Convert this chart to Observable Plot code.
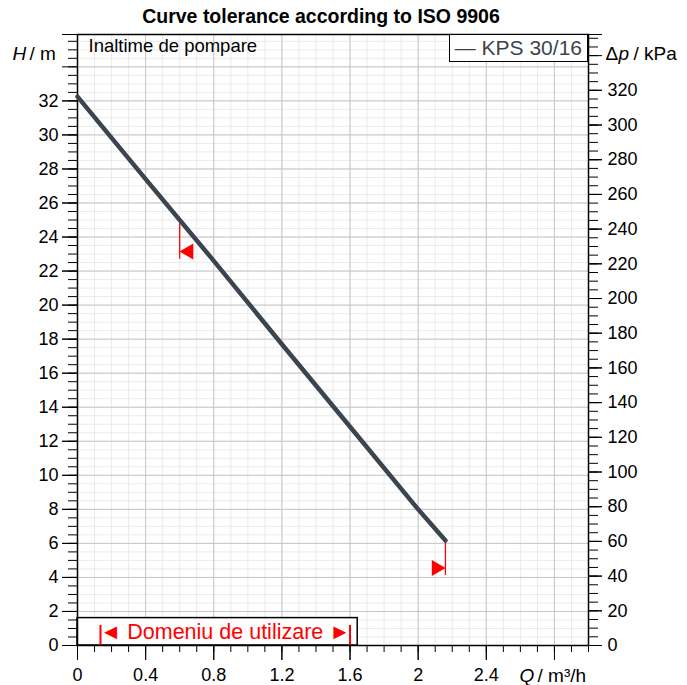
<!DOCTYPE html>
<html><head><meta charset="utf-8">
<script src="https://cdn.jsdelivr.net/npm/d3@7"></script>
<script src="https://cdn.jsdelivr.net/npm/@observablehq/plot@0.6"></script>
<style>
body{margin:0;background:#fff;font-family:"Liberation Sans",Arial,sans-serif}
#wrap{position:relative;width:687px;height:685px}
#legend{position:absolute;left:449px;top:34px;width:137px;height:26px;border:1.5px solid #000;background:#fff;
  color:#3b4550;font-size:21px;line-height:26px;text-align:right;box-sizing:content-box;white-space:nowrap}
#legend span{margin-right:5px}
</style>
</head><body><div id="wrap"><div id="chart"></div><div id="legend"><span></span></div></div>
<script>
// ---- data ----
const titleText = "Curve tolerance according to ISO 9906";
const seriesName = "KPS 30/16";
const flowQ = [0, 0.4, 0.8, 1.2, 1.6, 2.0, 2.16];
const headH = [32.25, 27.4, 22.6, 17.7, 12.85, 8.0, 6.17];
const toleranceQ = [0.60, 2.16];
const toleranceLow = [22.7, 4.12];
const toleranceHigh = [24.85, 6.17];
const toleranceMid = [23.15, 4.55];
const toleranceDir = ["left", "right"];
const rangeQ = [0.135, 1.6];
const rangeBoxQ = 1.645;
const rangeBoxH = 1.61;
const rangeMarkH = 1.18;
const rangeLabel = "Domeniu de utilizare";
const curveLabel = "Inaltime de pompare";
const xTickLabels = [0, 0.4, 0.8, 1.2, 1.6, 2, 2.4];
const yTickLabels = [0, 2, 4, 6, 8, 10, 12, 14, 16, 18, 20, 22, 24, 26, 28, 30, 32];
const kpaTickLabels = [0, 20, 40, 60, 80, 100, 120, 140, 160, 180, 200, 220, 240, 260, 280, 300, 320];
const xMax = 3, yMax = 35.9, RHO_G = 9.81;

const rng = (a, b, s) => d3.range(a, b + s / 2, s).map(v => +v.toFixed(4));
const curve = flowQ.map((q, i) => ({q, h: headH[i]}));
const tol = toleranceQ.map((q, i) => ({q, lo: toleranceLow[i], hi: toleranceHigh[i], mid: toleranceMid[i], dir: toleranceDir[i]}));
const fmt = d => String(+d.toFixed(1));
const ink = "#3b4550";
const red = "#ff0000";
const lbl = (s, anchor, dx, dy, extra = {}) =>
  Plot.text([s], {frameAnchor: anchor, text: d => d, textAnchor: "start", lineAnchor: "middle", dx, dy, fontSize: 19, ...extra});

const chart = Plot.plot({
  width: 687, height: 685,
  marginLeft: 77, marginRight: 99, marginTop: 34, marginBottom: 40,
  style: {fontFamily: "'Liberation Sans', Arial, sans-serif", fontSize: "18px", color: "#000", background: "#fff", overflow: "visible"},
  x: {domain: [0, xMax], axis: null},
  y: {domain: [0, yMax], axis: null},
  marks: [
    Plot.gridX({ticks: rng(0, 3, 0.1), stroke: "#ebebeb", strokeOpacity: 1, strokeWidth: 1}),
    Plot.gridY({ticks: rng(0, 35.5, 0.5), stroke: "#ebebeb", strokeOpacity: 1, strokeWidth: 1}),
    Plot.gridX({ticks: rng(0, 2.8, 0.4), stroke: "#c6c6c6", strokeOpacity: 1, strokeWidth: 1}),
    Plot.gridY({ticks: rng(0, 34, 2), stroke: "#c6c6c6", strokeOpacity: 1, strokeWidth: 1}),
    // bottom axis
    Plot.axisX({anchor: "bottom", ticks: rng(0, 3, 0.1), tickSize: 7, tickFormat: () => "", label: null}),
    Plot.axisX({anchor: "bottom", ticks: rng(0, 2.8, 0.4), tickSize: 15, tickFormat: () => "", label: null}),
    Plot.axisX({anchor: "bottom", ticks: xTickLabels, tickSize: 15, tickPadding: 8, tickFormat: fmt, label: null, fontSize: 18}),
    // left axis
    Plot.axisY({anchor: "left", ticks: rng(0, 35.5, 0.5), tickSize: 9, tickFormat: () => "", label: null}),
    Plot.axisY({anchor: "left", ticks: rng(0, 34, 2).concat([yMax]), tickSize: 15, tickFormat: () => "", label: null}),
    Plot.axisY({anchor: "left", ticks: yTickLabels, tickSize: 15, tickPadding: 4, tickFormat: fmt, label: null, fontSize: 18}),
    // right axis (kPa)
    Plot.axisY({anchor: "right", ticks: rng(0, 350, 5).map(k => k / RHO_G), tickSize: 9, tickFormat: () => "", label: null}),
    Plot.axisY({anchor: "right", ticks: rng(0, 340, 20).map(k => k / RHO_G).concat([yMax]), tickSize: 13, tickFormat: () => "", label: null}),
    Plot.axisY({anchor: "right", ticks: kpaTickLabels.map(k => k / RHO_G), tickSize: 13, tickPadding: 6, tickFormat: d => String(Math.round(d * RHO_G)), label: null, fontSize: 18}),
    // operating range box
    Plot.rect([{x1: 0, x2: rangeBoxQ, y1: 0, y2: rangeBoxH}], {x1: "x1", x2: "x2", y1: "y1", y2: "y2", fill: "#fff", stroke: "#000", strokeWidth: 1.5}),
    Plot.ruleX(rangeQ, {x: d => d, y1: 0, y2: rangeMarkH, stroke: red, strokeWidth: 2}),
    Plot.text([rangeLabel], {x: d3.mean(rangeQ), y: rangeBoxH / 2, text: d => "◄ " + d + " ►", fill: red, fontSize: 21.5}),
    // frame
    Plot.frame({stroke: "#000", strokeWidth: 1.5}),
    // tolerance markers
    Plot.ruleX(tol, {x: "q", y1: "lo", y2: "hi", stroke: red, strokeWidth: 1.3}),
    Plot.dot(tol.filter(d => d.dir === "left"), {x: "q", y: "mid", symbol: "triangle", r: 5.9, fill: red, stroke: null, rotate: -90, dx: 9}),
    Plot.dot(tol.filter(d => d.dir === "right"), {x: "q", y: "mid", symbol: "triangle", r: 5.9, fill: red, stroke: null, rotate: 90, dx: -9}),
    // pump curve
    Plot.line(curve, {x: "q", y: "h", stroke: ink, strokeWidth: 4.5, strokeLinecap: "round", strokeLinejoin: "round"}),
    // texts
    Plot.text([titleText], {frameAnchor: "top", text: d => d, lineAnchor: "middle", dx: -12, dy: -18, fontWeight: "bold", fontSize: 19.5}),
    lbl(curveLabel, "top-left", 11, 12, {fontSize: 18.5}),
    lbl("H", "top-left", -65, 19, {fontStyle: "italic"}),
    lbl("/ m", "top-left", -48, 19),
    lbl("Δ", "top-right", 17, 19),
    lbl("p", "top-right", 30, 19, {fontStyle: "italic"}),
    lbl("/ kPa", "top-right", 45, 19),
    lbl("Q", "bottom-right", -69, 30, {fontStyle: "italic"}),
    lbl("/ m³/h", "bottom-right", -51, 30)
  ]
});
document.getElementById("chart").appendChild(chart);
document.querySelector("#legend span").textContent = "— " + seriesName;
</script>
</body></html>
